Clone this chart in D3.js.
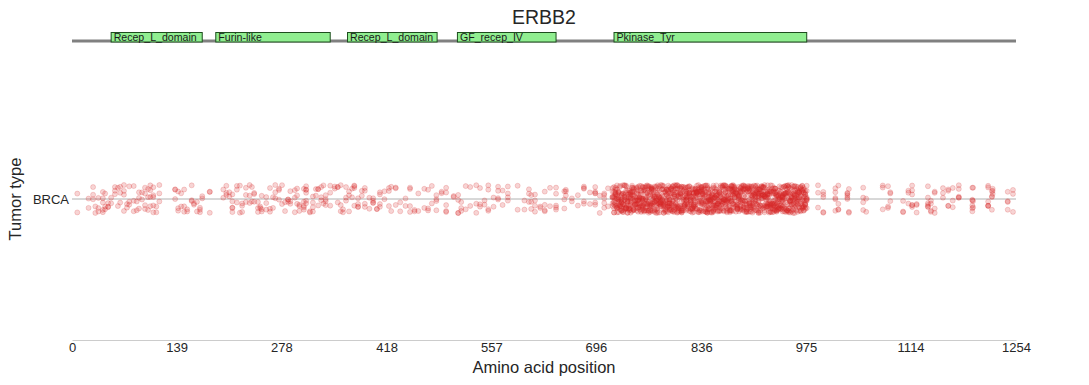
<!DOCTYPE html>
<html>
<head>
<meta charset="utf-8">
<script src="https://cdn.jsdelivr.net/npm/d3@7"></script>
<style>
  body { margin: 0; background: #fff; }
  svg { display: block; font-family: "Liberation Sans", Arial, sans-serif; }
</style>
</head>
<body>
<svg id="chart" width="1089" height="385"></svg>
<script>
// ---- data ----
const gene = "ERBB2";
const proteinLength = 1254;
const tumorTypes = ["BRCA"];
const tickValues = [0, 139, 278, 418, 557, 696, 836, 975, 1114, 1254];

const domainNames = ["Recep_L_domain", "Furin-like", "Recep_L_domain", "GF_recep_IV", "Pkinase_Tyr"];
const domainStarts = [52, 191, 366, 512, 720];
const domainEnds = [173, 343, 485, 643, 976];

// mutated positions (amino acid) and number of mutations at each
const positions = [
  7, 22, 28, 31, 35, 41, 44, 48, 52, 57, 61, 64, 69, 73, 76, 82, 86, 89, 93, 97, 101, 104, 108, 112, 116,
  137, 141, 145, 149, 153, 159, 162, 166, 170, 173, 183,
  201, 205, 209, 213, 219, 223, 226, 231, 236, 239, 242, 247, 250, 252, 258, 263, 267, 270, 275, 279, 283, 287, 290, 296, 299, 302, 308, 311, 316, 320, 324, 327, 331, 334, 337, 343,
  349, 353, 357, 360, 364, 368, 372, 375, 380, 385, 389, 395, 400, 405, 409, 415, 421, 424, 430, 436, 443, 449, 455, 460, 468, 473, 478, 484, 491, 497,
  507, 513, 517, 523, 529, 537, 542, 548, 553, 560, 566, 572, 579, 592, 601, 607, 610, 615, 622, 628, 635, 643, 654, 656, 664, 672, 680, 688, 695, 701, 707, 712,
  718, 720, 722, 724, 726, 728, 730, 732, 734, 736, 738, 740, 742, 744, 746, 748, 750, 752, 754, 756,
  758, 760, 762, 764, 766, 768, 770, 772, 774, 776, 778, 780, 782, 784, 786, 788, 790, 792, 794, 796,
  798, 800, 802, 804, 806, 808, 810, 812, 814, 816, 818, 820, 822, 824, 826, 828, 830, 832, 834, 836,
  838, 840, 842, 844, 846, 848, 850, 852, 854, 856, 858, 860, 862, 864, 866, 868, 870, 872, 874, 876,
  878, 880, 882, 884, 886, 888, 890, 892, 894, 896, 898, 900, 902, 904, 906, 908, 910, 912, 914, 916,
  918, 920, 922, 924, 926, 928, 930, 932, 934, 936, 938, 940, 942, 944, 946, 948, 950, 952, 954, 956,
  958, 960, 962, 964, 966, 968, 970, 972, 974, 976,
  991, 998, 1014, 1018, 1030, 1032, 1051, 1055, 1077, 1084, 1087, 1104, 1111, 1116, 1122,
  1137, 1141, 1146, 1157, 1164, 1170, 1178, 1196, 1197, 1217, 1222, 1223, 1243, 1250
];
const counts = [
  2, 2, 3, 2, 3, 5, 3, 3, 2, 3, 2, 3, 4, 2, 3, 3, 2, 3, 2, 4, 3, 4, 5, 2, 3,
  3, 3, 2, 3, 2, 3, 2, 2, 3, 2, 3,
  2, 3, 2, 5, 3, 2, 3, 3, 3, 2, 3, 3, 2, 3, 3, 3, 2, 3, 3, 2, 2, 3, 3, 3, 3, 3, 5, 6, 2, 4, 2, 3, 3, 2, 4, 3,
  2, 3, 3, 2, 3, 3, 2, 4, 4, 2, 4, 2, 4, 2, 4, 2, 3, 2, 3, 2, 2, 4, 2, 2, 2, 3, 2, 4, 2, 5,
  2, 4, 3, 2, 2, 3, 3, 2, 4, 2, 4, 2, 4, 2, 2, 3, 3, 4, 2, 4, 2, 5, 3, 3, 2, 2, 5, 2, 6, 2, 5, 2,
  7, 10, 9, 11, 10, 8, 12, 9, 10, 11, 9, 10, 13, 9, 10, 8, 11, 10, 9, 12,
  10, 9, 11, 10, 8, 13, 10, 9, 11, 10, 9, 12, 10, 8, 11, 10, 9, 11, 13, 10,
  9, 11, 10, 12, 9, 10, 11, 8, 10, 12, 9, 11, 10, 9, 13, 10, 11, 9, 10, 12,
  10, 9, 11, 10, 13, 9, 10, 11, 12, 10, 9, 11, 10, 8, 12, 10, 11, 9, 10, 11,
  13, 10, 9, 11, 10, 12, 9, 10, 11, 10, 8, 11, 12, 10, 9, 11, 10, 13, 9, 10,
  11, 10, 9, 12, 10, 11, 9, 10, 13, 10, 11, 9, 10, 12, 10, 9, 11, 10, 11, 9,
  10, 12, 9, 11, 10, 9, 11, 10, 12, 8,
  3, 5, 5, 4, 5, 3, 4, 2, 3, 3, 3, 3, 3, 6, 3,
  6, 4, 4, 3, 4, 3, 5, 6, 3, 6, 4, 3, 4, 3
];

// ---- layout ----
const svg = d3.select("#chart");
const left = 72, right = 1016;
const rowY = 199, jitterHalf = 14;
const axisY = 340;

const x = d3.scaleLinear().domain([0, proteinLength]).range([left, right]);
const y = d3.scaleBand().domain(tumorTypes).range([58, 340]);

// deterministic jitter generator (visual only)
function mulberry32(a) {
  return function() {
    a |= 0; a = a + 0x6D2B79F5 | 0;
    let t = Math.imul(a ^ a >>> 15, 1 | a);
    t = t + Math.imul(t ^ t >>> 7, 61 | t) ^ t;
    return ((t ^ t >>> 14) >>> 0) / 4294967296;
  };
}
const rand = mulberry32(12345);

const points = [];
positions.forEach((p, i) => {
  for (let k = 0; k < counts[i]; k++) {
    points.push({ pos: p, type: tumorTypes[0], j: (rand() * 2 - 1) });
  }
});

// title
svg.append("text")
  .attr("x", 544).attr("y", 24)
  .attr("text-anchor", "middle")
  .attr("font-size", 19.5)
  .attr("fill", "#262626")
  .text(gene);

// protein backbone
svg.append("line")
  .attr("x1", x(0)).attr("x2", x(proteinLength))
  .attr("y1", 41).attr("y2", 41)
  .attr("stroke", "#808080").attr("stroke-width", 3);

// domains
const dg = svg.append("g");
domainNames.forEach((name, i) => {
  dg.append("rect")
    .attr("x", x(domainStarts[i])).attr("y", 32.5)
    .attr("width", x(domainEnds[i]) - x(domainStarts[i]))
    .attr("height", 9.5)
    .attr("fill", "#90ee90")
    .attr("stroke", "#1d4d1d").attr("stroke-width", 1);
  dg.append("text")
    .attr("x", x(domainStarts[i]) + 2.5).attr("y", 41)
    .attr("font-size", 10.6)
    .attr("fill", "#1a1a1a")
    .text(name);
});

// category gridline
svg.append("line")
  .attr("x1", left).attr("x2", right)
  .attr("y1", rowY).attr("y2", rowY)
  .attr("stroke", "#b0b0b0").attr("stroke-width", 1);

// points
svg.append("g").selectAll("circle")
  .data(points)
  .enter().append("circle")
  .attr("cx", d => x(d.pos))
  .attr("cy", d => y(d.type) + y.bandwidth() / 2 + d.j * jitterHalf)
  .attr("r", 2.5)
  .attr("fill", "#d62728").attr("fill-opacity", 0.2)
  .attr("stroke", "#d62728").attr("stroke-opacity", 0.22).attr("stroke-width", 0.9);

// y tick label
svg.append("text")
  .attr("x", 69).attr("y", rowY + 4.5)
  .attr("text-anchor", "end")
  .attr("font-size", 13)
  .attr("fill", "#262626")
  .text(tumorTypes[0]);

// y label
svg.append("text")
  .attr("transform", `translate(21,${rowY}) rotate(-90)`)
  .attr("text-anchor", "middle")
  .attr("font-size", 16.5)
  .attr("fill", "#262626")
  .text("Tumor type");

// x axis
const xAxis = d3.axisBottom(x).tickValues(tickValues).tickSize(0).tickPadding(3).tickFormat(d3.format("d"));
const ax = svg.append("g").attr("transform", `translate(0,${axisY})`).call(xAxis);
ax.select(".domain").attr("stroke", "#cccccc").attr("stroke-width", 1);
ax.selectAll("text").attr("font-size", 13).attr("fill", "#262626")
  .attr("font-family", "Liberation Sans, Arial, sans-serif");

svg.append("text")
  .attr("x", 544).attr("y", 373)
  .attr("text-anchor", "middle")
  .attr("font-size", 16.5)
  .attr("fill", "#262626")
  .text("Amino acid position");
</script>
</body>
</html>
